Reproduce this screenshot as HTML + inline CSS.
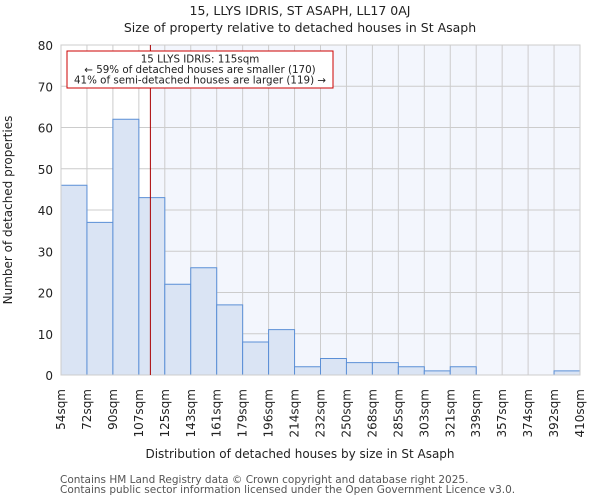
<!DOCTYPE html>
<html><head><meta charset="utf-8"><style>
body{margin:0;background:#fff}
svg{display:block;font-family:"DejaVu Sans","Liberation Sans",sans-serif}
</style></head><body>
<svg id="c" width="600" height="500" viewBox="0 0 600 500">
<text x="300" y="15" text-anchor="middle" font-size="12.5" fill="#222">15, LLYS IDRIS, ST ASAPH, LL17 0AJ</text>
<text x="300" y="32" text-anchor="middle" font-size="12.5" fill="#222">Size of property relative to detached houses in St Asaph</text>
<g id="plot"></g>
<text x="300" y="458" text-anchor="middle" font-size="12" fill="#222">Distribution of detached houses by size in St Asaph</text>
<text transform="translate(12,210) rotate(-90)" text-anchor="middle" font-size="12" fill="#222">Number of detached properties</text>
<text x="60" y="483" font-size="10.5" fill="#555">Contains HM Land Registry data © Crown copyright and database right 2025.</text>
<text x="60" y="493" font-size="10.5" fill="#555">Contains public sector information licensed under the Open Government Licence v3.0.</text>
</svg>
<script>
const tickLabels=["54sqm","72sqm","90sqm","107sqm","125sqm","143sqm","161sqm","179sqm","196sqm","214sqm","232sqm","250sqm","268sqm","285sqm","303sqm","321sqm","339sqm","357sqm","374sqm","392sqm","410sqm"];
const binEdges=[54,72,90,107,125,143,161,179,196,214,232,250,268,285,303,321,339,357,374,392,410];
const counts=[46,37,62,43,22,26,17,8,11,2,4,3,3,2,1,2,0,0,0,1];
const yTicks=[0,10,20,30,40,50,60,70,80];
const markerValue=115;
const annotationLines=["15 LLYS IDRIS: 115sqm","← 59% of detached houses are smaller (170)","41% of semi-detached houses are larger (119) →"];

const NS="http://www.w3.org/2000/svg";
const L=61,R=580,T=45,B=375,yMax=80;
const n=counts.length,bw=(R-L)/n;
const xIdx=i=>L+i*bw;
function xVal(v){let i=0;while(i<binEdges.length-2&&v>binEdges[i+1])i++;return xIdx(i+(v-binEdges[i])/(binEdges[i+1]-binEdges[i]));}
const y=v=>B-(v/yMax)*(B-T);
const g=document.getElementById('plot');
function mk(t,a,p){const e=document.createElementNS(NS,t);for(const k in a)e.setAttribute(k,a[k]);(p||g).appendChild(e);return e;}
const mx=xVal(markerValue);
let bg=mk('rect',{x:mx,y:T,width:R-mx,height:B-T,fill:'#f3f6fd'});


yTicks.forEach(t=>{
 let l=mk('line',{x1:L,x2:R,y1:y(t),y2:y(t),stroke:'#cccccc','stroke-width':1});
 
 
 let tx=mk('text',{x:L-8,y:y(t)+5,'text-anchor':'end','font-size':12,fill:'#222'});
 tx.textContent=t;
 
 
});
tickLabels.forEach((s,i)=>{
 let l=mk('line',{x1:xIdx(i),x2:xIdx(i),y1:T,y2:B,stroke:'#cccccc','stroke-width':1});
 
 
 let tx=mk('text',{transform:`translate(${xIdx(i)+4},389) rotate(-90)`,'text-anchor':'end','font-size':12,fill:'#222'});
 tx.textContent=s;
 
 
});
counts.forEach((c,i)=>{
 let r=mk('rect',{x:xIdx(i),y:y(c),width:bw,height:B-y(c),fill:'#dae4f4',stroke:'#5b8fd6','stroke-width':1});
 
 
});
let ax=mk('rect',{x:L,y:T,width:R-L,height:B-T,fill:'none',stroke:'#cccccc'});


let ml=mk('line',{x1:mx,x2:mx,y1:T,y2:B,stroke:'#aa0000','stroke-width':1});


let box=mk('rect',{x:67,y:51,width:266,height:37,fill:'#fff',stroke:'#cc0000','stroke-width':1});


annotationLines.forEach((s,i)=>{
 let t=mk('text',{x:200,y:62.5+i*10.5,'text-anchor':'middle','font-size':10.3,fill:'#222'});
 t.textContent=s;
 
 
});
</script>
</body></html>
